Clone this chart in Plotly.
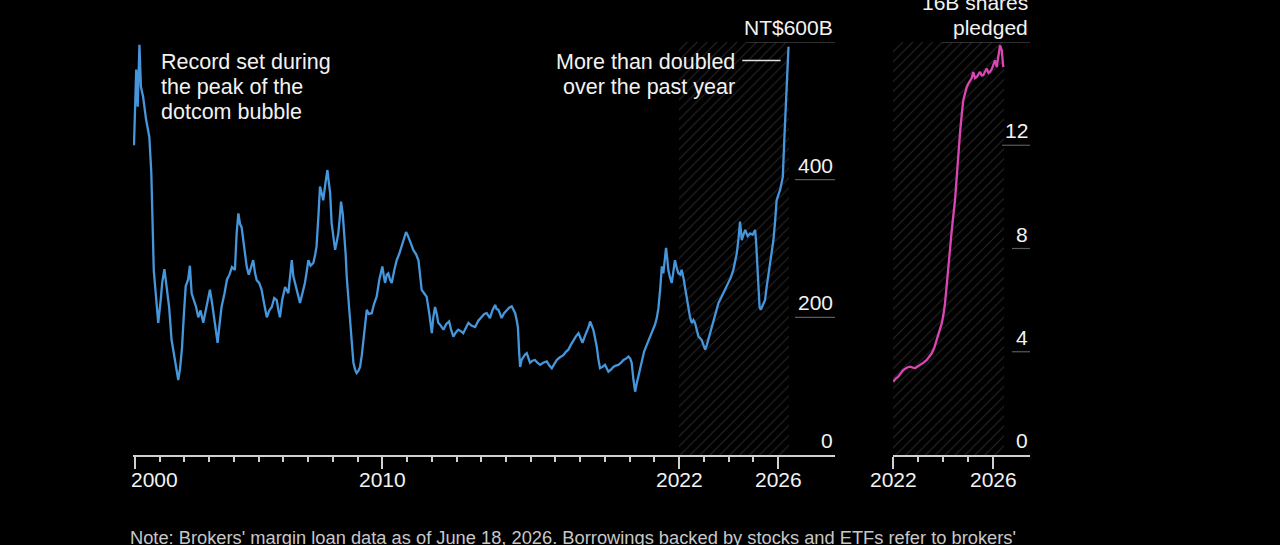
import plotly.graph_objects as go

# margin loans (NT$ billions), decimal years
loan_years = [
    1999.96, 2000.05, 2000.11, 2000.18, 2000.24, 2000.33, 2000.45, 2000.58, 2000.66, 2000.72,
    2000.76, 2000.85, 2000.94, 2001.04, 2001.10, 2001.19, 2001.30, 2001.38, 2001.48, 2001.60,
    2001.68, 2001.75, 2001.82, 2001.90, 2001.97, 2002.05, 2002.15, 2002.22, 2002.29, 2002.38,
    2002.47, 2002.56, 2002.65, 2002.76, 2002.85, 2002.93, 2003.03, 2003.12, 2003.20, 2003.34,
    2003.42, 2003.50, 2003.62, 2003.72, 2003.82, 2003.92, 2004.04, 2004.11, 2004.18, 2004.25,
    2004.31, 2004.38, 2004.45, 2004.52, 2004.60, 2004.67, 2004.78, 2004.85, 2004.92, 2005.02,
    2005.12, 2005.22, 2005.33, 2005.43, 2005.53, 2005.63, 2005.73, 2005.80, 2005.86, 2005.95,
    2006.07, 2006.20, 2006.28, 2006.34, 2006.40, 2006.47, 2006.57, 2006.67, 2006.77, 2006.87,
    2006.95, 2007.01, 2007.10, 2007.21, 2007.28, 2007.34, 2007.42, 2007.48, 2007.55, 2007.61,
    2007.70, 2007.78, 2007.84, 2007.89, 2007.95, 2008.02, 2008.09, 2008.16, 2008.22, 2008.28,
    2008.33, 2008.40, 2008.46, 2008.52, 2008.56, 2008.62, 2008.69, 2008.76, 2008.83, 2008.90,
    2008.96, 2009.03, 2009.10, 2009.17, 2009.23, 2009.30, 2009.37, 2009.45, 2009.57, 2009.67,
    2009.77, 2009.88, 2010.00, 2010.06, 2010.11, 2010.18, 2010.24, 2010.31, 2010.38, 2010.48,
    2010.58, 2010.68, 2010.78, 2010.88, 2010.96, 2011.04, 2011.12, 2011.18, 2011.25, 2011.36,
    2011.46, 2011.52, 2011.59, 2011.69, 2011.79, 2011.90, 2012.00, 2012.06, 2012.13, 2012.20,
    2012.26, 2012.36, 2012.47, 2012.58, 2012.70, 2012.78, 2012.87, 2012.97, 2013.07, 2013.17,
    2013.27, 2013.38, 2013.48, 2013.60, 2013.75, 2013.88, 2014.02, 2014.12, 2014.22, 2014.35,
    2014.45, 2014.56, 2014.62, 2014.69, 2014.76, 2014.82, 2014.92, 2015.03, 2015.13, 2015.23,
    2015.30, 2015.37, 2015.43, 2015.48, 2015.53, 2015.57, 2015.63, 2015.70, 2015.77, 2015.84,
    2015.90, 2015.97, 2016.07, 2016.17, 2016.27, 2016.38, 2016.50, 2016.65, 2016.75, 2016.85,
    2016.95, 2017.05, 2017.18, 2017.32, 2017.42, 2017.52, 2017.62, 2017.72, 2017.82, 2017.93,
    2018.01, 2018.09, 2018.18, 2018.27, 2018.34, 2018.40, 2018.46, 2018.53, 2018.60, 2018.67,
    2018.73, 2018.80, 2018.90, 2019.00, 2019.07, 2019.14, 2019.24, 2019.34, 2019.44, 2019.54,
    2019.65, 2019.75, 2019.85, 2019.95, 2020.02, 2020.08, 2020.15, 2020.22, 2020.28, 2020.35,
    2020.42, 2020.49, 2020.58, 2020.69, 2020.82, 2020.96, 2021.03, 2021.10, 2021.16, 2021.23,
    2021.30, 2021.36, 2021.42, 2021.47, 2021.52, 2021.56, 2021.63, 2021.70, 2021.76, 2021.83,
    2021.90, 2021.97, 2022.04, 2022.10, 2022.17, 2022.24, 2022.30, 2022.37, 2022.44, 2022.51,
    2022.58, 2022.64, 2022.71, 2022.78, 2022.84, 2022.91, 2022.98, 2023.05, 2023.12, 2023.18,
    2023.25, 2023.35, 2023.45, 2023.52, 2023.59, 2023.69, 2023.79, 2023.89, 2023.99, 2024.09,
    2024.19, 2024.26, 2024.33, 2024.40, 2024.46, 2024.50, 2024.53, 2024.60, 2024.67, 2024.77,
    2024.87, 2024.97, 2025.07, 2025.11, 2025.14, 2025.20, 2025.25, 2025.30, 2025.38, 2025.47,
    2025.54, 2025.61, 2025.71, 2025.81, 2025.88, 2025.94, 2026.01, 2026.08, 2026.14, 2026.19,
    2026.25, 2026.32, 2026.36, 2026.42,
]
loan_values = [
    450, 560, 506, 596, 535, 520, 487, 462, 410, 300,
    268, 230, 192, 225, 250, 270, 240, 215, 167, 140,
    125, 109, 125, 155, 200, 245, 255, 275, 235, 225,
    215, 200, 210, 192, 210, 225, 240, 220, 200, 163,
    190, 215, 235, 255, 262, 273, 269, 322, 351, 335,
    331, 312, 290, 273, 262, 270, 283, 265, 254, 250,
    240, 220, 200, 210, 215, 228, 225, 210, 200, 225,
    244, 235, 262, 283, 260, 250, 232, 221, 235, 250,
    268, 283, 275, 279, 290, 303, 350, 390, 380, 370,
    395, 414, 395, 381, 337, 320, 298, 310, 322, 345,
    368, 350, 322, 290, 259, 230, 201, 165, 134, 124,
    119, 122, 128, 145, 163, 190, 211, 205, 206, 220,
    230, 255, 274, 260, 250, 262, 264, 255, 250, 268,
    283, 292, 303, 315, 324, 318, 312, 305, 298, 292,
    283, 262, 240, 235, 230, 205, 177, 200, 215, 205,
    192, 188, 182, 190, 194, 182, 172, 178, 182, 180,
    177, 185, 192, 188, 186, 195, 201, 205, 206, 199,
    210, 218, 212, 211, 205, 199, 206, 211, 214, 216,
    210, 206, 196, 186, 150, 128, 138, 143, 146, 148,
    140, 134, 137, 138, 134, 131, 134, 136, 130, 126,
    132, 138, 142, 145, 150, 153, 160, 167, 172, 177,
    170, 163, 172, 179, 186, 194, 188, 182, 170, 157,
    140, 126, 128, 131, 126, 121, 124, 128, 130, 131,
    134, 138, 140, 143, 140, 134, 110, 92, 103, 114,
    128, 138, 150, 160, 172, 186, 190, 200, 213, 240,
    274, 264, 285, 301, 285, 269, 258, 250, 265, 283,
    272, 264, 262, 269, 258, 245, 230, 215, 200, 192,
    196, 192, 180, 172, 170, 167, 160, 153, 160, 168,
    177, 192, 206, 215, 221, 228, 235, 242, 250, 258,
    269, 280, 293, 315, 339, 325, 312, 320, 327, 318,
    322, 320, 327, 310, 288, 250, 215, 211, 218, 225,
    245, 264, 288, 312, 340, 370, 378, 385, 395, 404,
    458, 506, 545, 593,
]

# shares pledged (billions)
pledge_years = [
    2022.01, 2022.10, 2022.21, 2022.31, 2022.41, 2022.55, 2022.68, 2022.88, 2023.08, 2023.22,
    2023.35, 2023.45, 2023.55, 2023.65, 2023.75, 2023.85, 2023.95, 2024.02, 2024.08, 2024.16,
    2024.25, 2024.35, 2024.48, 2024.58, 2024.68, 2024.75, 2024.81, 2024.88, 2024.95, 2025.02,
    2025.08, 2025.15, 2025.21, 2025.28, 2025.35, 2025.42, 2025.48, 2025.55, 2025.61, 2025.68,
    2025.75, 2025.82, 2025.88, 2025.95, 2026.01, 2026.08, 2026.15, 2026.22, 2026.28, 2026.35,
    2026.41,
]
pledge_values = [
    2.84, 2.95, 3.03, 3.18, 3.29, 3.38, 3.42, 3.36, 3.48, 3.58,
    3.68, 3.80, 3.94, 4.15, 4.45, 4.75, 5.10, 5.45, 5.87, 6.70,
    7.70, 8.70, 9.87, 11.3, 12.47, 13.2, 13.74, 14.0, 14.26, 14.4,
    14.52, 14.6, 14.84, 14.6, 14.65, 14.75, 14.84, 14.7, 14.71, 14.85,
    14.97, 14.8, 14.84, 14.95, 15.1, 15.29, 15.03, 15.4, 15.87, 15.68,
    15.03,
]

left_ticks = [0, 200, 400, 600]
left_tick_text = ["0", "200", "400", "NT$600B"]
right_ticks = [0, 4, 8, 12, 16]
right_tick_text = ["0", "4", "8", "12", "16B shares<br>pledged"]

left_years = [2000, 2010, 2022, 2026]
right_years = [2022, 2026]
hatch_start = 2022

BG = "black"
TXT = "#f2f2f2"
AXIS = "#cfcfcf"
FONT = "Liberation Sans, Arial, sans-serif"
BLUE = "#4696dc"
PINK = "#dc46b4"
LINE_GAP = 25  # px between text lines

W, H = 1280, 545
left_dom = [133 / W, 835 / W]
right_dom = [893 / W, 1030 / W]
y_dom = [1 - 455 / H, 1 - 42 / H]

hatch_end = max(loan_years[-1], pledge_years[-1])

fig = go.Figure()

hatch = dict(color=BG, line_width=0,
             pattern=dict(shape="/", fgcolor="#4e4e4e", bgcolor=BG, size=7, solidity=0.15))
fig.add_trace(go.Bar(x=[(hatch_start + hatch_end) / 2], y=[left_ticks[-1]],
                     width=[hatch_end - hatch_start], marker=hatch,
                     xaxis="x", yaxis="y", hoverinfo="skip"))
fig.add_trace(go.Bar(x=[(hatch_start + hatch_end) / 2], y=[right_ticks[-1]],
                     width=[hatch_end - hatch_start], marker=hatch,
                     xaxis="x2", yaxis="y2", hoverinfo="skip"))

fig.add_trace(go.Scatter(x=loan_years, y=loan_values, mode="lines",
                         line=dict(color=BLUE, width=2.3), xaxis="x", yaxis="y"))
fig.add_trace(go.Scatter(x=pledge_years, y=pledge_values, mode="lines",
                         line=dict(color=PINK, width=2.3), xaxis="x2", yaxis="y2"))


def x_axis(domain, rng, majors, first, last, anchor):
    return dict(domain=domain, range=rng, anchor=anchor,
                showgrid=False, zeroline=False, showline=True, linecolor=AXIS, linewidth=1.5,
                ticks="outside", tickmode="array", tickvals=majors, ticklen=12,
                tickcolor=AXIS, tickwidth=1.5, showticklabels=False,
                minor=dict(ticks="outside", tickmode="array",
                           tickvals=[y for y in range(first, last + 1) if y not in majors],
                           ticklen=5, tickcolor=AXIS, tickwidth=1.5, showgrid=False))


def y_axis(domain, rng, anchor):
    return dict(domain=domain, range=rng, anchor=anchor, showgrid=False, zeroline=False,
                showline=False, showticklabels=False, ticks="")


annotations = []
shapes = []
tick_font = dict(size=21, color=TXT, family=FONT)
note_font = dict(size=21.5, color=TXT, family=FONT)


def text_block(lines, font, from_bottom=False, base_shift=0, **kw):
    # one annotation per line so the line spacing can be set
    n = len(lines)
    for i, line in enumerate(lines):
        shift = (n - 1 - i) * LINE_GAP if from_bottom else -i * LINE_GAP
        annotations.append(dict(text=line, showarrow=False, font=font,
                                yshift=shift + base_shift, **kw))


# x tick labels
for yr in left_years:
    first = yr == left_years[0]
    annotations.append(dict(x=yr, xref="x", y=1 - 479 / H, yref="paper", text=str(yr),
                            showarrow=False, xanchor="left" if first else "center",
                            xshift=-6 if first else 0, yanchor="middle", font=tick_font))
for yr in right_years:
    annotations.append(dict(x=yr, xref="x2", y=1 - 479 / H, yref="paper", text=str(yr),
                            showarrow=False, xanchor="center", yanchor="middle", font=tick_font))

# y tick labels with short rules under them
for ax, ticks, texts, dom_px in (("", left_ticks, left_tick_text, 702),
                                 ("2", right_ticks, right_tick_text, 137)):
    for v, t in zip(ticks, texts):
        text_block(t.split("<br>"), tick_font, from_bottom=True, base_shift=1,
                   x=1, xref=f"x{ax} domain", y=v, yref=f"y{ax}",
                   xanchor="right", yanchor="bottom")
        if v == 0:
            continue
        last_line = t.split("<br>")[-1]
        rule_px = max(len(last_line) * 12 + 4, 18)
        shapes.append(dict(type="line", xref=f"x{ax} domain", yref=f"y{ax}",
                           x0=1 - rule_px / dom_px, x1=1, y0=v, y1=v,
                           line=dict(color="#5a5a5a", width=1.2)))

text_block(["Record set during", "the peak of the", "dotcom bubble"], note_font,
           x=2000.97, xref="x", y=592, yref="y", yanchor="top", xanchor="left")
text_block(["More than doubled", "over the past year"], note_font,
           x=2024.34, xref="x", y=592, yref="y", yanchor="top", xanchor="right")
shapes.append(dict(type="line", xref="x", yref="y", x0=2024.55, x1=2026.1, y0=573, y1=573,
                   line=dict(color="#e0e0e0", width=1.5)))

annotations.append(dict(x=128 / W, xref="paper", y=1 - 537 / H, yref="paper",
                        xanchor="left", yanchor="middle", showarrow=False,
                        text="Note: Brokers' margin loan data as of June 18, 2026. "
                             "Borrowings backed by stocks and ETFs refer to brokers'",
                        font=dict(size=18.3, color="#c8c8c8", family=FONT)))

fig.update_layout(
    width=W, height=H,
    margin=dict(l=0, r=0, t=0, b=0),
    paper_bgcolor=BG, plot_bgcolor=BG,
    showlegend=False, bargap=0,
    xaxis=x_axis(left_dom, [1999.92, 2028.3], left_years, 2000, 2026, "y"),
    xaxis2=x_axis(right_dom, [2022, 2027.48], right_years, 2022, 2026, "y2"),
    yaxis=y_axis(y_dom, [0, 600], "x"),
    yaxis2=y_axis(y_dom, [0, 16], "x2"),
    annotations=annotations,
    shapes=shapes,
)

fig.write_html("out.html", config={"displayModeBar": False},
               post_script="document.body.style.margin='0';document.body.style.background='black';")
